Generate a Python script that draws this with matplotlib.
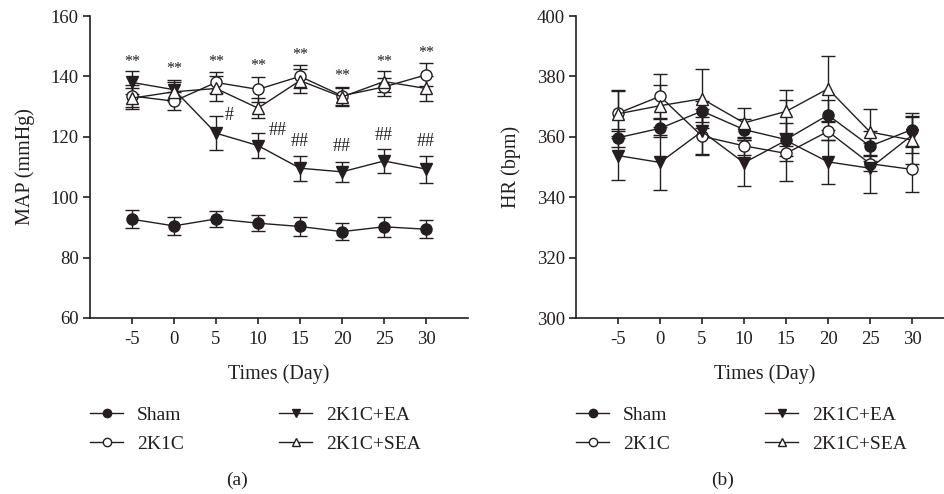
import matplotlib
matplotlib.use('Agg')
import matplotlib.pyplot as plt
from matplotlib.lines import Line2D

plt.rcParams['font.family'] = ['Liberation Serif', 'DejaVu Serif']

days = [-5, 0, 5, 10, 15, 20, 25, 30]
groups = ['Sham', '2K1C', '2K1C+EA', '2K1C+SEA']

# Panel (a): MAP (mmHg)
map_sham = [92.7, 90.5, 92.8, 91.4, 90.3, 88.6, 90.2, 89.4]
map_sham_err = [3.0, 3.1, 2.7, 2.7, 3.1, 2.7, 3.3, 2.9]
map_2k1c = [133.5, 131.8, 138.0, 135.7, 140.0, 133.6, 136.5, 140.5]
map_2k1c_err = [3.5, 3.0, 3.5, 4.2, 3.8, 3.0, 3.0, 3.8]
map_ea = [138.0, 135.6, 121.2, 117.1, 109.6, 108.4, 112.0, 109.3]
map_ea_err = [3.7, 3.2, 5.6, 4.2, 4.2, 3.4, 3.9, 4.5]
map_sea = [132.8, 134.9, 136.0, 129.5, 138.6, 133.2, 138.3, 136.0]
map_sea_err = [3.5, 3.2, 4.0, 3.4, 4.0, 3.0, 3.5, 4.0]

# Significance marks in panel (a)
star_y = [144.9, 142.3, 144.9, 143.4, 147.1, 140.1, 144.9, 147.6]
hash_labels = ['#', '##', '##', '##', '##', '##']
hash_x = [6.6, 12.3, 15.0, 20.0, 25.0, 30.0]
hash_y = [126.9, 122.2, 118.3, 116.7, 120.5, 118.3]

# Panel (b): HR (bpm)
hr_sham = [359.7, 362.8, 368.5, 362.4, 359.1, 367.2, 356.9, 362.4]
hr_sham_err = [3.0, 3.0, 3.5, 3.5, 5.5, 5.0, 5.0, 5.5]
hr_2k1c = [367.8, 373.4, 360.2, 357.0, 354.5, 361.8, 351.1, 349.2]
hr_2k1c_err = [7.5, 7.3, 6.3, 3.0, 2.5, 3.0, 2.5, 7.5]
hr_ea = [353.8, 351.5, 361.8, 351.4, 358.8, 351.7, 349.6, 360.5]
hr_ea_err = [8.0, 9.0, 7.5, 7.7, 13.5, 7.3, 8.2, 6.0]
hr_sea = [367.6, 370.3, 372.6, 364.6, 368.4, 375.9, 361.6, 358.9]
hr_sea_err = [8.0, 7.0, 9.7, 5.0, 7.0, 10.7, 7.7, 8.0]

INK = '#231f20'
TICK_FS = 13.5
LABEL_FS = 14.5
styles = [
    dict(marker='o', mfc=INK, ms=8),
    dict(marker='o', mfc='white', ms=8),
    dict(marker='v', mfc=INK, ms=8),
    dict(marker='^', mfc='white', ms=8),
]

fig = plt.figure(figsize=(9.45, 4.94), dpi=100)
W, H = 945, 494

def make_axes(left_px, right_px):
    return fig.add_axes([left_px / W, 1 - 318 / H, (right_px - left_px) / W, (318 - 16) / H])

def style_axes(ax, ylim, yticks, ylabel):
    ax.set_xlim(-10, 35)
    ax.set_ylim(*ylim)
    ax.set_xticks(days)
    ax.set_xticklabels([str(d) for d in days])
    ax.set_yticks(yticks)
    for s in ['top', 'right']:
        ax.spines[s].set_visible(False)
    for s in ['left', 'bottom']:
        ax.spines[s].set_linewidth(1.2)
        ax.spines[s].set_color(INK)
    ax.tick_params(axis='y', direction='out', length=5, width=1.2, colors=INK, labelsize=TICK_FS, pad=3)
    ax.tick_params(axis='x', direction='out', length=4, width=1.2, colors=INK, labelsize=TICK_FS, pad=5)
    ax.set_xlabel('Times (Day)', fontsize=LABEL_FS, color=INK, labelpad=12)
    ax.set_ylabel(ylabel, fontsize=LABEL_FS, color=INK, labelpad=11)

def plot_series(ax, series, errs):
    for vals, err, st, name in zip(series, errs, styles, groups):
        ax.errorbar(days, vals, yerr=err, color=INK, lw=1.0, elinewidth=1.0,
                    capsize=5, capthick=1.0, marker=st['marker'], ms=st['ms'],
                    mfc=st['mfc'], mec=INK, mew=1.0, label=name, clip_on=False)

ax1 = make_axes(90, 468)
plot_series(ax1, [map_sham, map_2k1c, map_ea, map_sea],
            [map_sham_err, map_2k1c_err, map_ea_err, map_sea_err])
style_axes(ax1, (60, 160), [60, 80, 100, 120, 140, 160], 'MAP (mmHg)')
for d, y in zip(days, star_y):
    ax1.text(d, y, '**', ha='center', va='center', fontsize=11.5, color=INK)
for lab, x, y in zip(hash_labels, hash_x, hash_y):
    ax1.text(x, y, lab, ha='center', va='center', fontsize=13, color=INK)

ax2 = make_axes(576, 954)
plot_series(ax2, [hr_sham, hr_2k1c, hr_ea, hr_sea],
            [hr_sham_err, hr_2k1c_err, hr_ea_err, hr_sea_err])
style_axes(ax2, (300, 400), [300, 320, 340, 360, 380, 400], 'HR (bpm)')

def legend_handles():
    hs = []
    for st in styles:
        hs.append(Line2D([], [], color=INK, lw=1.0, marker=st['marker'], ms=6,
                         mfc=st['mfc'], mec=INK, mew=1.0))
    return hs

for x0, lab_x, lab in [(90, 237, '(a)'), (576, 723, '(b)')]:
    fig.legend(legend_handles(), groups, loc='upper left', ncol=2,
               bbox_to_anchor=(x0 / W, 1 - 406 / H), frameon=False,
               fontsize=14, handlelength=1.7, handletextpad=0.72,
               columnspacing=4.9, labelspacing=0.6, borderpad=0, borderaxespad=0,
               labelcolor=INK)
    fig.text(lab_x / W, 1 - 480 / H, lab, ha='center', va='center',
             fontsize=14, color=INK)

fig.savefig('out.png', dpi=100)
